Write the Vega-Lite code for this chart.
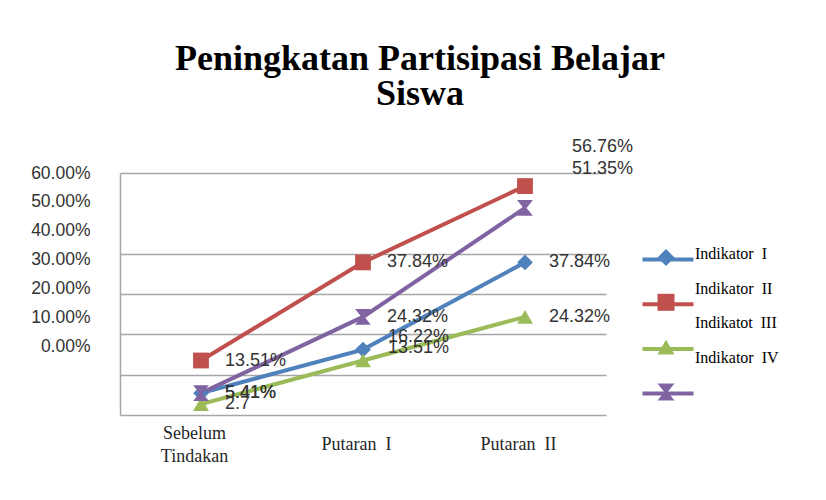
{
  "$schema": "https://vega.github.io/schema/vega-lite/v6.json",
  "width": 486,
  "height": 242,
  "autosize": {"type": "none"},
  "padding": {"left": 120, "top": 173, "right": 220, "bottom": 85},
  "background": "white",
  "title": {
    "text": ["Peningkatan Partisipasi Belajar", "Siswa"],
    "font": "Liberation Serif",
    "fontSize": 36,
    "fontWeight": "bold",
    "lineHeight": 35,
    "color": "#000000",
    "anchor": "middle",
    "dx": 57,
    "offset": 25
  },
  "config": {"view": {"stroke": null}},
  "data": {
    "values": [
      {"seri": "Indikator  I", "urut": 1, "kategori": "Sebelum Tindakan", "nilai": 0.0541, "label": "5.41%"},
      {"seri": "Indikator  I", "urut": 1, "kategori": "Putaran  I", "nilai": 0.1622, "label": "16.22%"},
      {"seri": "Indikator  I", "urut": 1, "kategori": "Putaran  II", "nilai": 0.3784, "label": "37.84%"},
      {"seri": "Indikator  II", "urut": 2, "kategori": "Sebelum Tindakan", "nilai": 0.1351, "label": "13.51%"},
      {"seri": "Indikator  II", "urut": 2, "kategori": "Putaran  I", "nilai": 0.3784, "label": "37.84%"},
      {"seri": "Indikator  II", "urut": 2, "kategori": "Putaran  II", "nilai": 0.5676, "label": "56.76%"},
      {"seri": "Indikatot  III", "urut": 3, "kategori": "Sebelum Tindakan", "nilai": 0.027, "label": "2.7"},
      {"seri": "Indikatot  III", "urut": 3, "kategori": "Putaran  I", "nilai": 0.1351, "label": "13.51%"},
      {"seri": "Indikatot  III", "urut": 3, "kategori": "Putaran  II", "nilai": 0.2432, "label": "24.32%"},
      {"seri": "Indikator  IV", "urut": 4, "kategori": "Sebelum Tindakan", "nilai": 0.0541, "label": "5.41%"},
      {"seri": "Indikator  IV", "urut": 4, "kategori": "Putaran  I", "nilai": 0.2432, "label": "24.32%"},
      {"seri": "Indikator  IV", "urut": 4, "kategori": "Putaran  II", "nilai": 0.5135, "label": "51.35%"}
    ]
  },
  "layer": [
    {
      "encoding": {
        "x": {
          "field": "kategori",
          "type": "nominal",
          "sort": ["Sebelum Tindakan", "Putaran  I", "Putaran  II"],
          "axis": {
            "title": null,
            "orient": "bottom",
            "domain": false,
            "ticks": false,
            "labelAngle": 0,
            "labelFont": "Liberation Serif",
            "labelFontSize": 18,
            "labelColor": "#262626",
            "labelPadding": 18,
            "labelBaseline": "middle",
            "labelLineHeight": 11.5,
            "labelOffset": -7,
            "labelExpr": "datum.value == 'Sebelum Tindakan' ? ['Sebelum', '\u200b', 'Tindakan'] : ['\u200b', replace(datum.value, '  ', '\u00a0\u00a0')]"
          }
        },
        "y": {
          "field": "nilai",
          "type": "quantitative",
          "scale": {"domain": [0, 0.6], "nice": false},
          "axis": {
            "title": null,
            "orient": "left",
            "grid": true,
            "values": [0, 0.1, 0.2, 0.3, 0.4, 0.6],
            "labels": false,
            "ticks": false,
            "domain": true,
            "domainColor": "#a6a6a6",
            "domainWidth": 1.5,
            "gridColor": "#a6a6a6",
            "gridWidth": 1.5
          }
        }
      },
      "layer": [
        {
          "mark": {"type": "line", "strokeWidth": 4},
          "encoding": {
            "stroke": {
              "field": "seri",
              "type": "nominal",
              "sort": ["Indikator  I", "Indikator  II", "Indikatot  III", "Indikator  IV"],
              "scale": {"range": ["#4F81BD", "#C0504D", "#9BBB59", "#8064A2"]},
              "legend": {
                "orient": "none",
                "legendX": 537.5,
                "legendY": 76,
                "title": null,
                "padding": 0,
                "symbolType": "M-3,0L3,0",
                "symbolSize": 289,
                "symbolStrokeWidth": 4,
                "rowPadding": 25.7,
                "labelFontSize": 16,
                "labelOpacity": 0
              }
            }
          }
        },
        {
          "mark": {"type": "point", "filled": true, "opacity": 1, "size": 250},
          "encoding": {
            "fill": {
              "field": "seri",
              "type": "nominal",
              "scale": {
                "domain": ["Indikator  I", "Indikator  II", "Indikatot  III", "Indikator  IV"],
                "range": ["#4F81BD", "#C0504D", "#9BBB59", "#8064A2"]
              },
              "legend": {
                "orient": "none",
                "legendX": 537.5,
                "legendY": 76,
                "title": null,
                "padding": 0,
                "symbolSize": 289,
                "symbolStrokeWidth": 0,
                "rowPadding": 27.8,
                "labelFontSize": 16,
                "labelOpacity": 0
              }
            },
            "shape": {
              "field": "seri",
              "type": "nominal",
              "scale": {
                "domain": ["Indikator  I", "Indikator  II", "Indikatot  III", "Indikator  IV"],
                "range": ["diamond", "square", "triangle-up", "M-1,-1L1,-1L0.2,0L1,1L-1,1L-0.2,0Z"]
              },
              "legend": {
                "orient": "none",
                "legendX": 537.5,
                "legendY": 76,
                "title": null,
                "padding": 0,
                "symbolSize": 289,
                "symbolStrokeWidth": 0,
                "rowPadding": 27.8,
                "labelFontSize": 16,
                "labelOpacity": 0
              }
            }
          }
        },
        {
          "transform": [{"filter": "!((datum.kategori == 'Putaran  I' && (datum.seri == 'Indikator  I' || datum.seri == 'Indikatot  III')) || (datum.kategori == 'Putaran  II' && (datum.seri == 'Indikator  II' || datum.seri == 'Indikator  IV')))"}],
          "mark": {"type": "text", "align": "left", "baseline": "middle", "dx": 24, "font": "Liberation Sans", "fontSize": 18, "color": "#333333"},
          "encoding": {"text": {"field": "label"}}
        },
        {
          "transform": [{"filter": "datum.kategori == 'Putaran  I' && (datum.seri == 'Indikator  I' || datum.seri == 'Indikatot  III')"}],
          "mark": {"type": "text", "align": "left", "baseline": "middle", "dx": 25, "dy": -13, "font": "Liberation Sans", "fontSize": 18, "color": "#333333"},
          "encoding": {"text": {"field": "label"}}
        },
        {
          "transform": [{"filter": "datum.kategori == 'Putaran  II' && (datum.seri == 'Indikator  II' || datum.seri == 'Indikator  IV')"}],
          "mark": {"type": "text", "align": "left", "baseline": "middle", "dx": 47, "dy": -39, "font": "Liberation Sans", "fontSize": 18, "color": "#333333"},
          "encoding": {"text": {"field": "label"}}
        }
      ]
    },
    {
      "mark": {"type": "point", "opacity": 0},
      "encoding": {
        "y": {
          "field": "nilai",
          "type": "quantitative",
          "scale": {"domain": [-0.239, 0.6], "nice": false, "zero": false},
          "axis": {
            "orient": "left",
            "values": [0, 0.1, 0.2, 0.3, 0.4, 0.5, 0.6],
            "format": ".2%",
            "title": null,
            "grid": false,
            "ticks": false,
            "domain": false,
            "labelPadding": 30,
            "labelFlush": false,
            "labelFont": "Liberation Sans",
            "labelFontSize": 17.5,
            "labelColor": "#333333",
            "labelBaseline": "middle"
          }
        },
        "color": {
          "field": "seri",
          "type": "nominal",
          "sort": {"field": "urut", "op": "min"},
          "scale": {"range": ["#4F81BD", "#C0504D", "#9BBB59", "#8064A2"]},
          "legend": {
            "orient": "none",
            "legendX": 555,
            "legendY": 73,
            "title": null,
            "padding": 0,
            "symbolSize": 16,
            "symbolOpacity": 0,
            "rowPadding": 18.7,
            "labelFont": "Liberation Serif",
            "labelFontSize": 16,
            "labelColor": "#000000",
            "labelOffset": 4,
            "labelBaseline": "middle",
            "labelLimit": 200,
            "labelExpr": "replace(datum.label, '  ', '\u00a0\u00a0')"
          }
        }
      }
    }
  ],
  "resolve": {"scale": {"y": "independent"}}
}
